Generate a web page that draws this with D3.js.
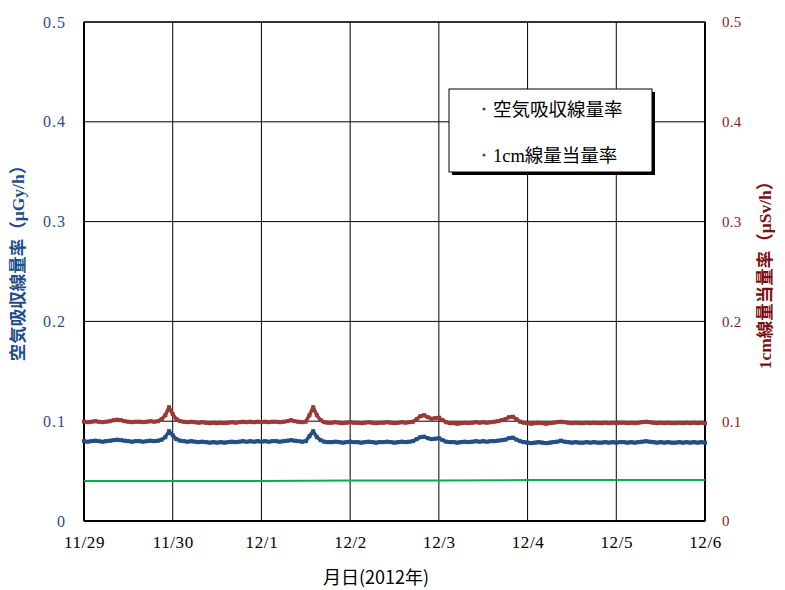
<!DOCTYPE html>
<html><head><meta charset="utf-8">
<script src="https://cdn.jsdelivr.net/npm/d3@7"></script>
<style>body{margin:0;background:#fff}svg{display:block}
.tk text{font-family:"Liberation Serif","Times New Roman",serif !important}
</style>
</head><body>
<svg id="c" width="785" height="590"></svg>
<script>
const dayLabels = ["11/29","11/30","12/1","12/2","12/3","12/4","12/5","12/6"];
const yTicks = [0, 0.1, 0.2, 0.3, 0.4, 0.5];
// hourly values starting 11/29 00:00
const airDose = [
0.080,0.0795,0.080,0.0805,0.080,0.0795,0.080,0.0805,
0.081,0.0815,0.081,0.0805,
0.080,0.0795,0.080,0.080,0.0795,0.080,0.0805,0.080,
0.0805,0.0815,0.084,0.090,0.086,0.082,0.0805,
0.080,0.0795,0.080,0.0795,0.079,0.0795,0.079,0.0785,0.079,
0.0785,0.079,0.0785,0.079,0.0795,0.079,0.0795,0.080,0.0795,0.080,0.0795,0.080,
0.0795,0.080,0.0795,0.080,0.080,0.0795,0.080,0.0805,
0.081,0.0805,0.080,0.0795,0.080,
0.085,0.090,0.084,0.081,0.0795,0.079,
0.079,0.0795,0.079,0.0785,0.079,0.0795,0.079,0.079,0.0785,0.079,0.0795,0.079,0.0785,0.079,0.079,0.0795,0.079,0.0785,0.079,0.0795,0.079,0.0795,
0.080,0.082,0.084,0.0845,0.083,0.082,0.0825,0.083,0.081,0.0795,0.079,
0.079,0.0785,0.079,0.0795,0.079,0.0795,0.080,0.0795,0.080,0.0795,0.080,0.080,0.0805,0.081,
0.0815,0.083,0.0835,0.0815,0.080,0.079,
0.0785,0.078,0.0785,0.079,0.0785,0.078,0.0785,0.079,0.0795,
0.0805,0.0795,0.079,
0.0785,0.079,0.0785,0.0785,0.079,0.0785,0.079,0.0785,0.0785,0.079,0.0785,0.079,0.0785,0.079,0.079,0.0785,0.079,0.0785,0.079,
0.0795,0.080,0.0795,0.079,
0.0785,0.079,0.0785,0.079,0.0785,0.0785,0.079,0.0785,0.079,0.0785,0.079,0.0785,0.079,0.0785
];
const doseEq = [
0.0995,0.099,0.0995,0.100,0.0995,0.099,0.0995,0.100,
0.101,0.1015,0.101,0.100,
0.0995,0.099,0.0995,0.0995,0.099,0.0995,0.100,0.0995,
0.100,0.102,0.106,0.114,0.107,0.102,0.100,
0.0995,0.099,0.0995,0.099,0.0985,0.099,0.0985,0.098,0.0985,
0.098,0.0985,0.098,0.0985,0.099,0.0985,0.099,0.0995,0.099,0.0995,0.099,0.0995,
0.099,0.0995,0.099,0.0995,0.0995,0.099,0.0995,0.100,
0.101,0.100,0.0995,0.099,0.0995,
0.106,0.114,0.106,0.101,0.099,0.0985,
0.0985,0.099,0.0985,0.098,0.0985,0.099,0.0985,0.0985,0.098,0.0985,0.099,0.0985,0.098,0.0985,0.0985,0.099,0.0985,0.098,0.0985,0.099,0.0985,0.099,
0.0995,0.102,0.105,0.106,0.104,0.1025,0.103,0.1035,0.101,0.099,0.098,
0.098,0.0975,0.098,0.0985,0.098,0.0985,0.099,0.0985,0.099,0.0985,0.099,0.0995,0.100,0.101,
0.102,0.104,0.1045,0.102,0.0995,0.0985,
0.098,0.0975,0.098,0.0985,0.098,0.0975,0.098,0.0985,0.099,
0.0995,0.099,0.0985,
0.098,0.0985,0.098,0.098,0.0985,0.098,0.0985,0.098,0.098,0.0985,0.098,0.0985,0.098,0.0985,0.0985,0.098,0.0985,0.098,0.0985,
0.099,0.0995,0.099,0.0985,
0.098,0.0985,0.098,0.0985,0.098,0.098,0.0985,0.098,0.0985,0.098,0.0985,0.098,0.0985,0.098
];
// daily reference level (green line)
const refLevel = [0.040,0.040,0.040,0.0405,0.0405,0.041,0.041,0.041];

const blue = "#254F84", red = "#9A3A38", green = "#00B050";
const blueText = "#1F4E8C", redText = "#8B1A1A";
const serif = "Liberation Serif, Times New Roman, serif";
const cjkSerif = "Liberation Serif, Noto Sans CJK JP, serif";

const svg = d3.select("#c");
const L = 84, R = 705, T = 22, B = 521;
const x = d3.scaleLinear().domain([0, 7]).range([L, R]);
const y = d3.scaleLinear().domain([0, 0.5]).range([B, T]);
const yR = d3.scaleLinear().domain([0, 0.5]).range([B, T]);

// grid
const g = svg.append("g");
g.selectAll(".vg").data(d3.range(1, 7)).enter().append("line")
 .attr("x1", d => x(d)).attr("x2", d => x(d)).attr("y1", T).attr("y2", B)
 .attr("stroke", "#000").attr("stroke-width", 1);
g.selectAll(".hg").data(yTicks.slice(1)).enter().append("line")
 .attr("x1", L).attr("x2", R).attr("y1", d => y(d)).attr("y2", d => y(d))
 .attr("stroke", "#000").attr("stroke-width", 1);
g.append("rect").attr("x", L).attr("y", T).attr("width", R - L).attr("height", B - T)
 .attr("fill", "none").attr("stroke", "#000").attr("stroke-width", 1.2);
g.append("line").attr("x1", L).attr("x2", L).attr("y1", T).attr("y2", B).attr("stroke", "#000").attr("stroke-width", 2);
g.append("line").attr("x1", L).attr("x2", R).attr("y1", B).attr("y2", B).attr("stroke", "#000").attr("stroke-width", 2);
g.append("line").attr("x1", R).attr("x2", R).attr("y1", T).attr("y2", B).attr("stroke", "#000").attr("stroke-width", 2);

// axes labels
const fmt = d => d === 0 ? "0" : d3.format(".1f")(d);
const axL = svg.append("g").attr("class", "tk").attr("transform", `translate(${L},0)`)
 .call(d3.axisLeft(y).tickValues(yTicks).tickSize(0).tickPadding(18).tickFormat(fmt));
axL.attr("font-family", serif).attr("font-size", 16);
axL.select(".domain").remove();
axL.selectAll("text").attr("fill", blueText).attr("letter-spacing", 1);
const axR = svg.append("g").attr("class", "tk").attr("transform", `translate(${R},0)`)
 .call(d3.axisRight(yR).tickValues(yTicks).tickSize(0).tickPadding(17).tickFormat(fmt));
axR.attr("font-family", serif).attr("font-size", 15);
axR.select(".domain").remove();
axR.selectAll("text").attr("fill", redText).attr("letter-spacing", 0.3);
const axB = svg.append("g").attr("class", "tk").attr("transform", `translate(0,${B})`)
 .call(d3.axisBottom(x).tickValues(d3.range(0, 8)).tickSize(0).tickPadding(15).tickFormat(d => dayLabels[d]));
axB.attr("font-family", serif).attr("font-size", 17);
axB.select(".domain").remove();
axB.selectAll("text").attr("fill", "#000").attr("letter-spacing", 0.6);

// series
const line = d3.line().x(d => x(d[0])).y(d => y(d[1]));
const refPts = refLevel.map((v, i) => [i, v]);
svg.append("path").datum(refPts).attr("d", line).attr("fill", "none").attr("stroke", green).attr("stroke-width", 2);
function drawSeries(vals, col) {
  const pts = vals.map((v, i) => [i / 24, v]);
  svg.append("path").datum(pts).attr("d", line).attr("fill", "none").attr("stroke", col).attr("stroke-width", 3.6).attr("stroke-linejoin", "round");
  svg.append("g").selectAll("rect").data(pts).enter().append("rect")
   .attr("x", d => x(d[0]) - 2).attr("y", d => y(d[1]) - 2).attr("width", 4).attr("height", 4).attr("fill", col);
}
drawSeries(doseEq, red);
drawSeries(airDose, blue);

// legend
const lg = svg.append("g");
lg.append("rect").attr("x", 452).attr("y", 92).attr("width", 203).attr("height", 83).attr("fill", "#000");
lg.append("rect").attr("x", 449).attr("y", 89).attr("width", 203).attr("height", 83).attr("fill", "#fff").attr("stroke", "#000").attr("stroke-width", 1);
const items = [["空気吸収線量率", blue], ["1cm線量当量率", red]];
items.forEach((it, i) => {
  const yy = 109 + i * 46;
  lg.append("circle").attr("cx", 484).attr("cy", yy).attr("r", 1.6).attr("fill", it[1]);
  lg.append("text").attr("x", 493).attr("y", yy + 7).text(it[0])
   .attr("font-family", cjkSerif).attr("font-size", 18.5).attr("fill", "#000");
});

// axis titles
svg.append("text").attr("transform", "translate(24,259) rotate(-90)").attr("text-anchor", "middle")
 .attr("font-family", cjkSerif).attr("font-size", 17.5).attr("font-weight", "bold").attr("fill", blueText)
 .text("空気吸収線量率（μGy/h）");
svg.append("text").attr("transform", "translate(771,271) rotate(-90)").attr("text-anchor", "middle")
 .attr("font-family", cjkSerif).attr("font-size", 17.5).attr("font-weight", "bold").attr("fill", "#7A1010")
 .text("1cm線量当量率（μSv/h）");
svg.append("text").attr("x", 376).attr("y", 584).attr("text-anchor", "middle")
 .attr("font-family", "Noto Sans CJK JP, sans-serif").attr("font-size", 18).attr("fill", "#000").text("月日(2012年)");
</script>
</body></html>
